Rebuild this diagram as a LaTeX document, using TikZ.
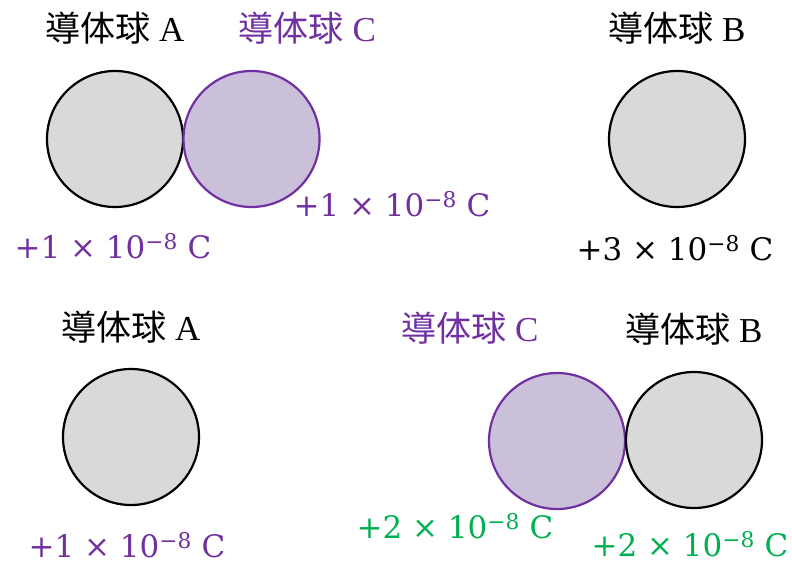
\documentclass[tikz,border=0pt]{standalone}
\usepackage{fontspec}
\setmainfont{Liberation Serif}
\newfontfamily\jpfont{Noto Sans CJK JP}
\newfontfamily\qfont{DejaVu Serif}
\usetikzlibrary{positioning}
\definecolor{cpurple}{HTML}{7030A0}
\definecolor{cgreen}{HTML}{00B050}
\definecolor{lilac}{HTML}{CBC0DA}
\definecolor{ballgray}{HTML}{D9D9D9}
\newcommand{\chq}[1]{+#1 × 10\textsuperscript{−8} C}

\begin{document}
\begin{tikzpicture}[x=1pt, y=1pt,
  ball/.style={circle, draw=black, fill=ballgray, line width=2.2pt, minimum size=136pt, inner sep=0pt},
  ballc/.style={ball, draw=cpurple, fill=lilac},
  ballname/.style={font=\fontsize{35}{42}\selectfont, inner sep=0pt},
  charge/.style={font=\qfont\fontsize{31}{38}\selectfont, inner sep=0pt},
]
\useasboundingbox (0,0) rectangle (792,566);
% ---- before: A touches C, B alone ----
\node[ball] (a1) at (115,427) {};
\node[ballc] (c1) at (251.5,427) {};
\node[ball] (b1) at (677,427) {};
\node[ballname, above=25pt of a1] (la1) {{\jpfont 導体球} A};
\node[ballname, above=25pt of c1, xshift=56pt, text=cpurple] (lc1) {{\jpfont 導体球} C};
\node[ballname, above=25pt of b1] (lb1) {{\jpfont 導体球} B};
\node[charge, text=cpurple] (qa1) at (113,320) {\chq{1}};
\node[charge, text=cpurple] (qc1) at (392,362) {\chq{1}};
\node[charge] (qb1) at (675,318) {\chq{3}};
% ---- after: C touches B ----
\node[ball] (a2) at (131,129) {};
\node[ballc] (c2) at (557,125) {};
\node[ball] (b2) at (694,126) {};
\node[ballname, above=24pt of a2] (la2) {{\jpfont 導体球} A};
\node[ballname, above=27pt of c2, xshift=-87pt, text=cpurple] (lc2) {{\jpfont 導体球} C};
\node[ballname, above=25pt of b2] (lb2) {{\jpfont 導体球} B};
\node[charge, text=cpurple] (qa2) at (127,21) {\chq{1}};
\node[charge, text=cgreen] (qc2) at (455,40) {\chq{2}};
\node[charge, text=cgreen] (qb2) at (690,22) {\chq{2}};
\end{tikzpicture}
\end{document}
